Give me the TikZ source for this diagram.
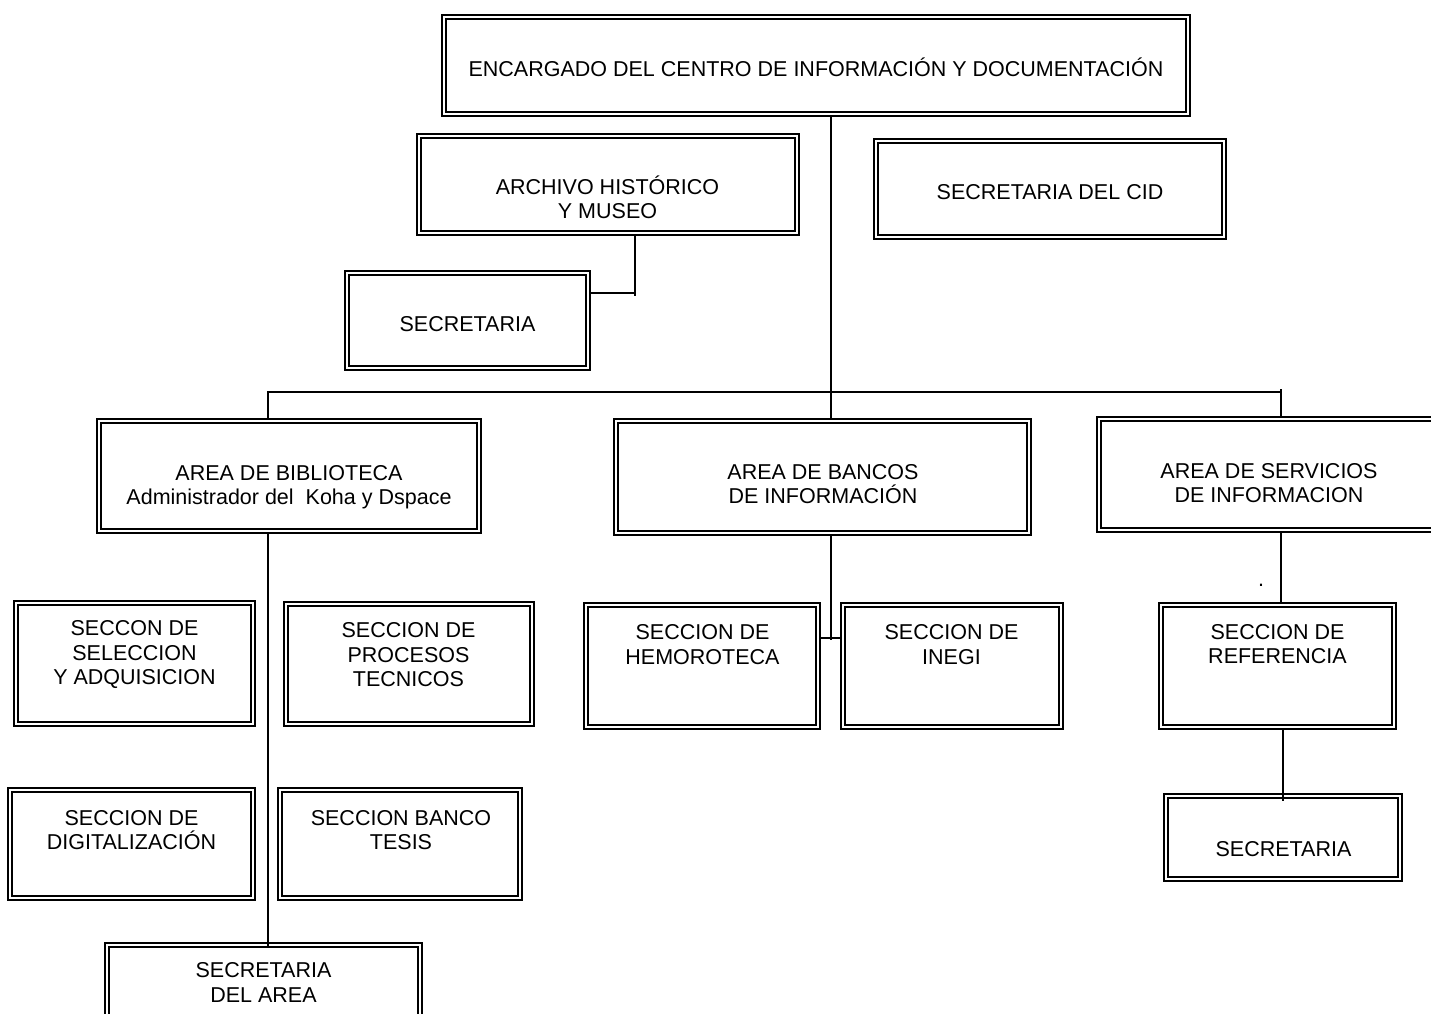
\documentclass[tikz,border=0pt]{standalone}
\usepackage{fontspec}
\setmainfont{Liberation Sans}
\newcommand{\orgbox}[5]{%
  \node[obox, minimum width={#4-#2-1.6}, minimum height={#5-#3-1.6}] (#1) at ({(#2+#4)/2},{(#3+#5)/2}) {};
  \draw[inline] ([shift={(3.9pt,-3.9pt)}]#1.north west) rectangle ([shift={(-3.9pt,3.9pt)}]#1.south east);
}
\begin{document}
\begin{tikzpicture}[x=1pt,y=-1pt,
  obox/.style={draw, line width=1.6pt, inner sep=0pt, outer sep=0pt},
  inline/.style={line width=2.2pt},
  conn/.style={line width=1.6pt},
  lbl/.style={align=center, inner sep=0pt, font=\fontsize{21.5}{24.5}\selectfont}]
\useasboundingbox (0,0) rectangle (1431,1013);
\fill[white] (0,0) rectangle (1431,1013);
\clip (0,0) rectangle (1431,1013);

% boxes
\orgbox{enc}{441}{14}{1191}{117}
\orgbox{arch}{416}{133}{800}{236}
\orgbox{secA}{344}{270}{591}{371}
\orgbox{cid}{873}{138}{1227}{240}
\orgbox{bib}{96}{418}{482}{534}
\orgbox{ban}{613}{418}{1032}{536}
\orgbox{serv}{1096}{416}{1460}{533}
\orgbox{sel}{13}{600}{256}{727}
\orgbox{proc}{283}{601}{535}{727}
\orgbox{hem}{583}{602}{821}{730}
\orgbox{ineg}{840}{602}{1064}{730}
\orgbox{ref}{1158}{602}{1397}{730}
\orgbox{dig}{7}{787}{256}{901}
\orgbox{tes}{277}{787}{523}{901}
\orgbox{secR}{1163}{793}{1403}{882}
\orgbox{secB}{104}{942}{423}{1060}

% labels
\node[lbl] (encT) at (816,67) {ENCARGADO DEL CENTRO DE INFORMACIÓN Y DOCUMENTACIÓN};
\node[lbl] (archT) at (607.5,197.5) {ARCHIVO HISTÓRICO\\Y MUSEO};
\node[lbl] (secAT) at (467.5,324.5) {SECRETARIA};
\node[lbl] (cidT) at (1050,192.5) {SECRETARIA DEL CID};
\node[lbl] (bibT) at (289,487) {AREA DE BIBLIOTECA\\Administrador del~ Koha y Dspace};
\node[lbl] (banT) at (823,484) {AREA DE BANCOS\\DE INFORMACIÓN};
\node[lbl] (servT) at (1269,483) {AREA DE SERVICIOS\\DE INFORMACION};
\node[lbl] (selT) at (134.5,655) {SECCON DE\\SELECCION\\Y ADQUISICION};
\node[lbl] (procT) at (408.5,655) {SECCION DE\\PROCESOS\\TECNICOS};
\node[lbl] (hemT) at (702.5,644.5) {SECCION DE\\HEMOROTECA};
\node[lbl] (inegT) at (951.5,644.5) {SECCION DE\\INEGI};
\node[lbl] (refT) at (1277.5,644) {SECCION DE\\REFERENCIA};
\node[lbl] (digT) at (131.5,830) {SECCION DE\\DIGITALIZACIÓN};
\node[lbl] (tesT) at (401,830) {SECCION BANCO\\TESIS};
\node[lbl] (secRT) at (1283.5,849.5) {SECRETARIA};
\node[lbl] (secBT) at (263.5,982.5) {SECRETARIA\\DEL AREA};
\node[lbl, anchor=base] (dot) at (1261,586) {.};

% connectors
\coordinate (busL) at (268,392);
\coordinate (busM) at (831,392);
\coordinate (busR) at (1281,392);
\draw[conn] (enc.south -| busM) -- (ban.north -| busM);
\draw[conn] (busL |- bib.north) -- (busL) -- (busR);
\draw[conn] ([yshift=3pt]busR) -- (busR |- serv.north);

\coordinate (archJ) at (635,293);
\draw[conn] (arch.south -| archJ) -- ([yshift=-3pt]archJ);
\draw[conn] (secA.east |- archJ) -- (archJ);

\draw[conn] (bib.south -| busL) -- ([yshift=-3pt]secB.north -| busL);

\coordinate (banJ) at (831,638);
\draw[conn] (ban.south -| banJ) -- ([yshift=-2pt]banJ);
\draw[conn] (hem.east |- banJ) -- (ineg.west |- banJ);

\draw[conn] (serv.south -| busR) -- (ref.north -| busR);

\coordinate (refX) at (1283,760);
\draw[conn] (ref.south -| refX) -- ([yshift=-7pt]secR.north -| refX);
\end{tikzpicture}
\end{document}
